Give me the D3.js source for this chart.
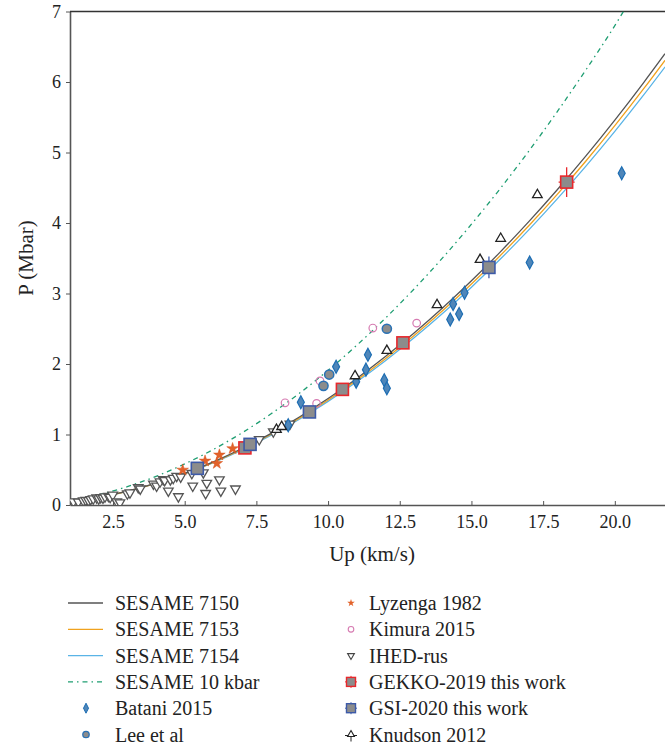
<!DOCTYPE html>
<html><head><meta charset="utf-8">
<script src="https://cdn.jsdelivr.net/npm/d3@7"></script>
<style>
html,body{margin:0;padding:0;background:#fff;}
svg{display:block;}
svg text{font-family:"Liberation Serif","Times New Roman",Times,"DejaVu Serif",serif !important;}
</style></head>
<body><svg id="c" width="665" height="746" font-family="Liberation Serif, serif"></svg>
<script>
// ---- data (Up in km/s, P in Mbar) ----
const xTicks = [2.5, 5.0, 7.5, 10.0, 12.5, 15.0, 17.5, 20.0];
const yTicks = [0, 1, 2, 3, 4, 5, 6, 7];

const sesame7150 = [[1,0.041],[2,0.107],[3,0.197],[4,0.311],[5,0.45],[6,0.613],[7,0.801],[8,1.013],[9,1.249],[10,1.51],[11,1.795],[12,2.105],[13,2.439],[14,2.797],[15,3.18],[16,3.587],[17,4.019],[18,4.475],[19,4.955],[20,5.46],[21,5.989],[21.75,6.402]];
const sesame7153 = [[1,0.041],[2,0.106],[3,0.195],[4,0.308],[5,0.445],[6,0.606],[7,0.791],[8,1.0],[9,1.233],[10,1.49],[11,1.771],[12,2.076],[13,2.405],[14,2.758],[15,3.135],[16,3.536],[17,3.961],[18,4.41],[19,4.883],[20,5.38],[21,5.901],[21.75,6.308]];
const sesame7154 = [[1,0.041],[2,0.105],[3,0.193],[4,0.305],[5,0.44],[6,0.599],[7,0.781],[8,0.987],[9,1.217],[10,1.47],[11,1.747],[12,2.047],[13,2.371],[14,2.719],[15,3.09],[16,3.485],[17,3.903],[18,4.345],[19,4.811],[20,5.30],[21,5.813],[21.75,6.213]];
const sesame10kbar = [[1,0.057],[2,0.144],[3,0.26],[4,0.406],[5,0.583],[6,0.788],[7,1.024],[8,1.29],[9,1.585],[10,1.91],[11,2.265],[12,2.65],[13,3.064],[14,3.508],[15,3.983],[16,4.486],[17,5.02],[18,5.584],[19,6.177],[20,6.8],[20.3,7.0]];

const batani = [[8.61,1.13],[9.05,1.457],[10.28,1.96],[10.98,1.75],[11.32,1.92],[11.39,2.13],[11.96,1.77],[12.05,1.655],[14.26,2.63],[14.57,2.71],[14.36,2.85],[14.76,3.01],[17.03,3.44],[20.24,4.705]];
const leeEtAl = [[9.84,1.69],[10.04,1.85],[12.05,2.50]];
const lyzenga = [[4.93,0.496],[5.71,0.624],[6.12,0.59],[6.21,0.71],[6.67,0.80]];
const kimura = [[8.50,1.45],[9.60,1.44],[9.72,1.76],[11.56,2.51],[13.09,2.58]];
const ihed = [[1.12,0.047],[1.29,0.045],[1.46,0.061],[1.55,0.07],[1.64,0.065],[1.72,0.08],[1.81,0.089],[1.93,0.104],[2.0,0.09],[2.07,0.109],[2.15,0.10],[2.22,0.118],[2.34,0.125],[2.40,0.11],[2.49,0.142],[2.63,0.047],[2.74,0.033],[3.0,0.16],[3.09,0.175],[3.38,0.25],[3.45,0.23],[3.91,0.30],[4.02,0.27],[4.14,0.33],[4.25,0.364],[4.30,0.35],[4.43,0.20],[4.50,0.36],[4.60,0.38],[4.72,0.41],[4.78,0.12],[4.86,0.40],[5.25,0.45],[5.28,0.27],[5.65,0.46],[5.73,0.166],[5.77,0.31],[6.21,0.36],[6.26,0.20],[6.77,0.23],[7.60,0.93],[8.09,1.04],[8.67,1.15]];
const knudson = [[8.20,1.07],[8.38,1.11],[10.94,1.83],[12.05,2.19],[13.80,2.84],[15.30,3.48],[16.02,3.78],[17.30,4.40]];
// [Up, P, dUp, dP]
const gekko = [[7.10,0.81,0,0],[10.50,1.64,0,0],[12.61,2.30,0,0],[18.32,4.58,0.28,0.21]];
const gsi = [[5.44,0.52,0,0],[7.28,0.86,0,0],[9.35,1.32,0,0],[15.61,3.37,0.2,0.155]];

const legendLeft = ["SESAME 7150","SESAME 7153","SESAME 7154","SESAME 10 kbar","Batani 2015","Lee et al"];
const legendRight = ["Lyzenga 1982","Kimura 2015","IHED-rus","GEKKO-2019 this work","GSI-2020 this work","Knudson 2012"];

// ---- drawing ----
const FONT = "Liberation Serif, Times New Roman, serif";
const svg = d3.select("#c");
const x = d3.scaleLinear().domain([1, 21.75]).range([70, 665]);
const y = d3.scaleLinear().domain([0, 7]).range([505, 11.5]);

const C = {
  k:"#555555", o:"#f0a21e", b:"#5ab4e6", g:"#1f9e72",
  diaF:"#4f86b9", diaS:"#1c6db3", lee:"#8c8c8c", leeS:"#2a72b5",
  kim:"#d67ab1", tri:"#555555", star:"#e2622a", sq:"#8c8c8c", red:"#e8282c", blue:"#3d5aa8"
};

svg.append("clipPath").attr("id","clip").append("rect")
  .attr("x",70).attr("y",11.5).attr("width",595).attr("height",493.5);

// axes
const xAxis = svg.append("g").attr("transform","translate(0,505)")
  .call(d3.axisBottom(x).tickValues(xTicks).tickFormat(d3.format(".1f")).tickSizeInner(-4).tickSizeOuter(0).tickPadding(10));
const yAxis = svg.append("g").attr("transform","translate(70,0)")
  .call(d3.axisLeft(y).tickValues(yTicks).tickFormat(d3.format("d")).tickSizeInner(4).tickSizeOuter(0).tickPadding(5));
[xAxis,yAxis].forEach(a=>{
  a.attr("font-family",FONT).attr("font-size",18);
  a.selectAll("text").attr("font-size",18).attr("fill","#222").attr("font-family",FONT);
  a.select(".domain").attr("stroke","#555").attr("stroke-width",1.6);
  a.selectAll(".tick line").attr("stroke","#555").attr("stroke-width",1);
});
svg.append("line").attr("x1",x(1)).attr("x2",665).attr("y1",y(7)).attr("y2",y(7))
  .attr("stroke","#333").attr("stroke-width",1.4);

svg.append("text").attr("x",372).attr("y",561).attr("text-anchor","middle").attr("font-family",FONT)
  .attr("font-size",21).attr("fill","#222").text("Up (km/s)");
svg.append("text").attr("transform","translate(33,258) rotate(-90)").attr("text-anchor","middle").attr("font-family",FONT)
  .attr("font-size",21).attr("fill","#222").text("P (Mbar)");

const plot = svg.append("g").attr("clip-path","url(#clip)");
const line = d3.line().x(d=>x(d[0])).y(d=>y(d[1])).curve(d3.curveMonotoneX);

plot.append("path").datum(sesame10kbar).attr("d",line).attr("fill","none")
  .attr("stroke",C.g).attr("stroke-width",1.3).attr("stroke-dasharray","5,4,1.5,4");
plot.append("path").datum(sesame7154).attr("d",line).attr("fill","none").attr("stroke",C.b).attr("stroke-width",1.3);
plot.append("path").datum(sesame7153).attr("d",line).attr("fill","none").attr("stroke",C.o).attr("stroke-width",1.3);
plot.append("path").datum(sesame7150).attr("d",line).attr("fill","none").attr("stroke",C.k).attr("stroke-width",1.3);

const diamond = (w,h)=>`M0,${-h/2}L${w/2},0L0,${h/2}L${-w/2},0Z`;
const triUp = d3.symbol(d3.symbolTriangle, 40)();
const star = d3.symbol(d3.symbolStar, 42)();

// IHED
plot.selectAll(".ihed").data(ihed).join("path").attr("class","ihed")
  .attr("d",triUp).attr("transform",d=>`translate(${x(d[0])},${y(d[1])}) rotate(180)`)
  .attr("fill","#fff").attr("stroke",C.tri).attr("stroke-width",1.3);
// Lyzenga
plot.selectAll(".lyz").data(lyzenga).join("path").attr("d",star)
  .attr("transform",d=>`translate(${x(d[0])},${y(d[1])})`).attr("fill",C.star).attr("stroke","#d8551f").attr("stroke-width",0.5);
// Kimura
plot.selectAll(".kim").data(kimura).join("circle").attr("cx",d=>x(d[0])).attr("cy",d=>y(d[1])).attr("r",3.8)
  .attr("fill","none").attr("stroke",C.kim).attr("stroke-width",1.2);
// Batani
plot.selectAll(".bat").data(batani).join("path").attr("d",diamond(7,13))
  .attr("transform",d=>`translate(${x(d[0])},${y(d[1])})`).attr("fill",C.diaF).attr("stroke",C.diaS).attr("stroke-width",1.2);
// Lee
plot.selectAll(".lee").data(leeEtAl).join("circle").attr("cx",d=>x(d[0])).attr("cy",d=>y(d[1])).attr("r",4.6)
  .attr("fill",C.lee).attr("stroke",C.leeS).attr("stroke-width",1.5);
// Knudson
plot.selectAll(".knu").data(knudson).join("path").attr("d",triUp)
  .attr("transform",d=>`translate(${x(d[0])},${y(d[1])})`).attr("fill","#fff").attr("stroke","#222").attr("stroke-width",1.3);

function squares(data, col){
  const g = plot.append("g");
  data.forEach(d=>{
    if(d[3]>0) g.append("line").attr("x1",x(d[0])).attr("x2",x(d[0])).attr("y1",y(d[1]-d[3])).attr("y2",y(d[1]+d[3])).attr("stroke",col).attr("stroke-width",1.3);
    if(d[2]>0) g.append("line").attr("x1",x(d[0]-d[2])).attr("x2",x(d[0]+d[2])).attr("y1",y(d[1])).attr("y2",y(d[1])).attr("stroke",col).attr("stroke-width",1.3);
  });
  g.selectAll("rect").data(data).join("rect")
    .attr("x",d=>x(d[0])-6).attr("y",d=>y(d[1])-6).attr("width",12).attr("height",12)
    .attr("fill",C.sq).attr("stroke",col).attr("stroke-width",1.6);
}
squares(gekko, C.red);
squares(gsi, C.blue);

// legend
const rowY = i => 603 + i*26.3;
const lg = svg.append("g").attr("font-size",20).attr("fill","#222").attr("font-family",FONT);
legendLeft.forEach((t,i)=>lg.append("text").attr("x",115).attr("y",rowY(i)+7).attr("font-family",FONT).text(t));
legendRight.forEach((t,i)=>lg.append("text").attr("x",369).attr("y",rowY(i)+7).attr("font-family",FONT).text(t));
const lgLine = (i,col,dash)=>svg.append("line").attr("x1",68).attr("x2",103).attr("y1",rowY(i)).attr("y2",rowY(i))
  .attr("stroke",col).attr("stroke-width",1.3).attr("stroke-dasharray",dash||null);
lgLine(0,C.k); lgLine(1,C.o); lgLine(2,C.b); lgLine(3,C.g,"5,4,1.5,4");
svg.append("path").attr("d",diamond(5,10)).attr("transform",`translate(86,${rowY(4)})`).attr("fill",C.diaF).attr("stroke",C.diaS).attr("stroke-width",1);
svg.append("circle").attr("cx",86).attr("cy",rowY(5)).attr("r",3.2).attr("fill",C.lee).attr("stroke",C.leeS).attr("stroke-width",1.3);
const mx = 351;
svg.append("path").attr("d",d3.symbol(d3.symbolStar,18)()).attr("transform",`translate(${mx},${rowY(0)})`).attr("fill",C.star);
svg.append("circle").attr("cx",mx).attr("cy",rowY(1)).attr("r",2.8).attr("fill","none").attr("stroke",C.kim).attr("stroke-width",1.1);
svg.append("path").attr("d",d3.symbol(d3.symbolTriangle,20)()).attr("transform",`translate(${mx},${rowY(2)}) rotate(180)`).attr("fill","#fff").attr("stroke","#444").attr("stroke-width",1.1);
[[3,C.red],[4,C.blue]].forEach(([i,col])=>{
  svg.append("line").attr("x1",mx).attr("x2",mx).attr("y1",rowY(i)-6).attr("y2",rowY(i)+6).attr("stroke",col).attr("stroke-width",1);
  svg.append("line").attr("x1",mx-6).attr("x2",mx+6).attr("y1",rowY(i)).attr("y2",rowY(i)).attr("stroke",col).attr("stroke-width",1);
  svg.append("rect").attr("x",mx-4.5).attr("y",rowY(i)-4.5).attr("width",9).attr("height",9).attr("fill",C.sq).attr("stroke",col).attr("stroke-width",1.4);
});
svg.append("line").attr("x1",mx).attr("x2",mx).attr("y1",rowY(5)).attr("y2",rowY(5)+7).attr("stroke","#222").attr("stroke-width",1);
svg.append("line").attr("x1",mx-6).attr("x2",mx+6).attr("y1",rowY(5)+1).attr("y2",rowY(5)+1).attr("stroke","#222").attr("stroke-width",1);
svg.append("path").attr("d",d3.symbol(d3.symbolTriangle,20)()).attr("transform",`translate(${mx},${rowY(5)})`).attr("fill","#fff").attr("stroke","#222").attr("stroke-width",1.1);
</script></body></html>
